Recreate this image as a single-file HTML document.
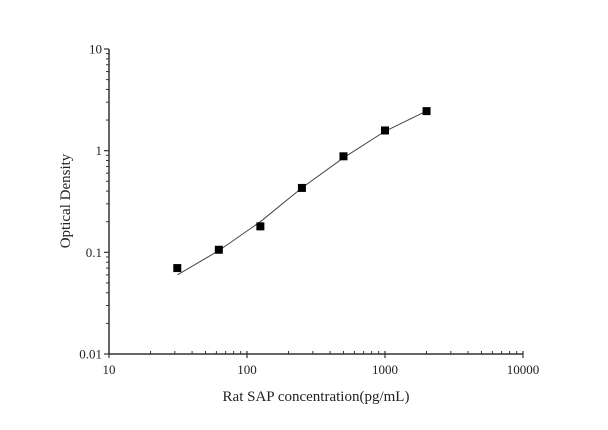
<!DOCTYPE html>
<html><head><meta charset="utf-8"><style>
html,body{margin:0;padding:0;background:#fff;}
svg text{font-family:"Liberation Serif",serif;fill:#222;}
</style></head><body>
<svg id="chart" width="608" height="425" xmlns="http://www.w3.org/2000/svg"></svg>
<script>
const concentrations = [31.25, 62.5, 125, 250, 500, 1000, 2000];
const odValues = [0.07, 0.106, 0.18, 0.43, 0.88, 1.58, 2.45];
const fitX = [31.25, 62.5, 125, 250, 500, 1000, 2000];
const fitY = [0.06, 0.104, 0.2, 0.43, 0.85, 1.55, 2.45];
const xTickLabels = ["10", "100", "1000", "10000"];
const yTickLabels = ["0.01", "0.1", "1", "10"];

const L = 109, R = 523, T = 49, B = 354;
const xMin = 1, xMax = 4, yMin = -2, yMax = 1;
function xs(v){ return L + (Math.log10(v) - xMin) / (xMax - xMin) * (R - L); }
function ys(v){ return B - (Math.log10(v) - yMin) / (yMax - yMin) * (B - T); }
const svg = document.getElementById('chart');
const NS = "http://www.w3.org/2000/svg";
function mk(tag, attrs){ const e = document.createElementNS(NS, tag); for (const k in attrs) e.setAttribute(k, attrs[k]); svg.appendChild(e); return e; }

// axes
const ya = mk('line', {x1:L, y1:T, x2:L, y2:B, stroke:'#333', 'stroke-width':1.5});


const xa = mk('line', {x1:L, y1:B, x2:R, y2:B, stroke:'#333', 'stroke-width':1.5});



// x ticks
xTickLabels.forEach((lab, i) => {
  const v = parseFloat(lab), x = xs(v);
  const t = mk('line', {x1:x, y1:B-3, x2:x, y2:B+4, stroke:'#333', 'stroke-width':1.2});
  
  
  const tx = mk('text', {x:x, y:B+20, 'text-anchor':'middle', 'font-size':13});
  tx.textContent = lab;
  
  
  if (i < xTickLabels.length - 1) {
    for (let m = 2; m <= 9; m++) {
      const mx = xs(v * m);
      const mt = mk('line', {x1:mx, y1:B, x2:mx, y2:B-3, stroke:'#333', 'stroke-width':1});
      
      
    }
  }
});
// y ticks
yTickLabels.forEach((lab, i) => {
  const v = parseFloat(lab), y = ys(v);
  const t = mk('line', {x1:L-5, y1:y, x2:L, y2:y, stroke:'#333', 'stroke-width':1.2});
  
  
  const tx = mk('text', {x:L-7, y:y+4.5, 'text-anchor':'end', 'font-size':13});
  tx.textContent = lab;
  
  
  if (i < yTickLabels.length - 1) {
    for (let m = 2; m <= 9; m++) {
      const my = ys(v * m);
      const mt = mk('line', {x1:L-3, y1:my, x2:L, y2:my, stroke:'#333', 'stroke-width':1});
      
      
    }
  }
});

// fit line
const pts = fitX.map((x, i) => xs(x).toFixed(1) + ',' + ys(fitY[i]).toFixed(1)).join(' ');
const pl = mk('polyline', {points:pts, fill:'none', stroke:'#444', 'stroke-width':1});



// points
concentrations.forEach((c, i) => {
  const r = mk('rect', {x:xs(c)-4, y:ys(odValues[i])-4, width:8, height:8, fill:'#000'});
  
  
});

// axis titles
const xt = mk('text', {x:(L+R)/2, y:401, 'text-anchor':'middle', 'font-size':15});
xt.textContent = 'Rat SAP concentration(pg/mL)';


const yt = mk('text', {x:0, y:0, 'text-anchor':'middle', 'font-size':15, transform:'translate(70,201) rotate(-90)'});
yt.textContent = 'Optical Density';


</script>
</body></html>
